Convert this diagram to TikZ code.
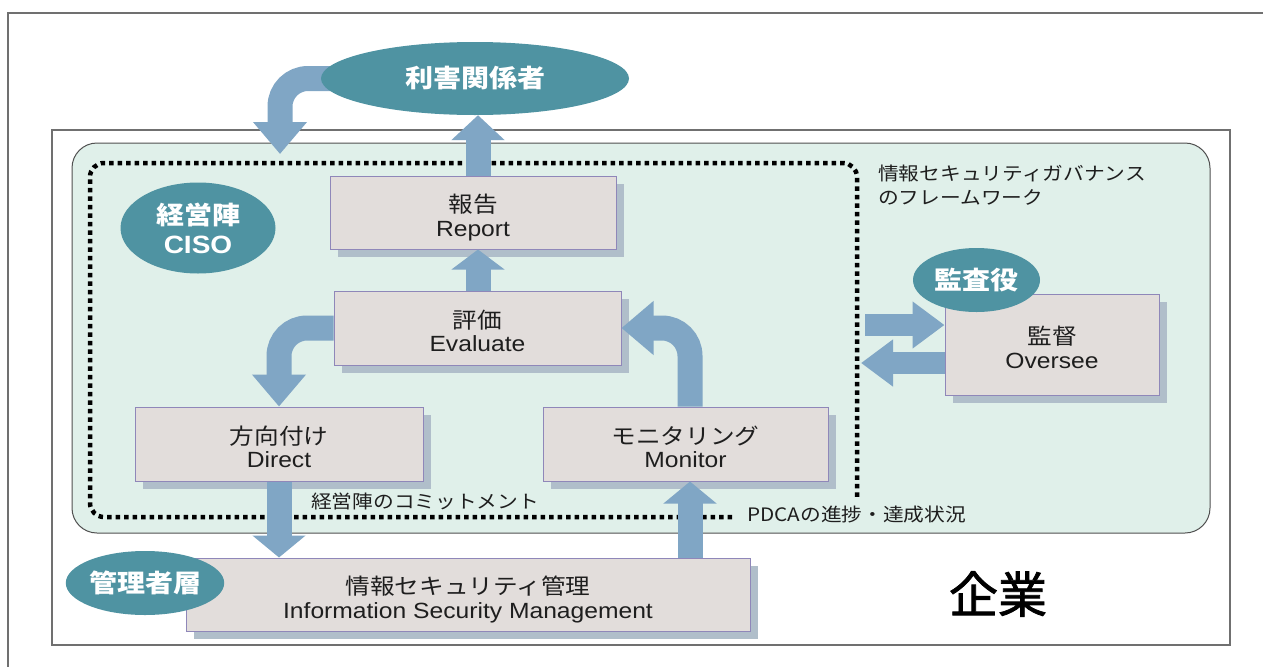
\documentclass[tikz,border=0pt]{standalone}
\usepackage{fontspec}
\setmainfont{Liberation Sans}[FakeStretch=1.12]
\newfontfamily\jp{Noto Sans CJK JP}[FakeStretch=1.12]
\newfontfamily\jpheavy{Noto Sans CJK JP}[FakeBold=1.6]
\usetikzlibrary{shapes.geometric,arrows.meta,shadows}
\definecolor{tealc}{HTML}{4F93A2}
\definecolor{arrowc}{HTML}{80A6C5}
\definecolor{boxfill}{HTML}{E2DDDB}
\definecolor{boxline}{HTML}{8F87B9}
\definecolor{shadowc}{HTML}{B0BECA}
\definecolor{mint}{HTML}{E0F0EA}
\definecolor{framec}{HTML}{707070}
\definecolor{greenline}{HTML}{505050}
\definecolor{textc}{HTML}{1E1E1E}
\pgfdeclarelayer{back}
\pgfdeclarelayer{mid}
\pgfsetlayers{back,mid,main}
\newcommand\boxtext[2]{\raisebox{-11.5pt}[0pt][0pt]{\begin{tabular}{@{}c@{}}{\jp #1}\\#2\end{tabular}}}
\begin{document}
\begin{tikzpicture}[x=1pt,y=-1pt,
  procbox/.style={draw=boxline, line width=1pt, fill=boxfill, inner sep=0pt,
    text=textc, font=\fontsize{22}{23.5}\selectfont,
    general shadow={fill=shadowc, shadow xshift=8pt, shadow yshift=-8pt}},
  role/.style={ellipse, fill=tealc, inner sep=0pt, text=white, align=center,
    font=\jp\bfseries\fontsize{25}{29}\selectfont},
  barrow/.style={draw=arrowc, line width=25pt, line cap=butt,
    -{Triangle[length=#1, width=52pt]}},
  sarrow/.style={draw=arrowc, line width=22pt, line cap=butt,
    -{Triangle[length=32pt, width=45pt]}},
  dotline/.style={draw=black, line width=4.5pt, dash pattern=on 4.5pt off 4pt},
  lbl/.style={inner sep=0pt, text=textc, font=\jp\fontsize{18.5}{24}\selectfont, align=left}
]
\useasboundingbox (0,0) rectangle (1263,667);
\begin{pgfonlayer}{back}
% outer frame
\draw[framec, line width=1.5pt] (1263,13) -- (8,13) -- (8,667);
% company
\draw[draw=framec, line width=1.2pt, fill=white] (52,130) rectangle (1230,645);
% governance area
\draw[draw=greenline, line width=1pt, fill=mint, rounded corners=25pt] (72,143) rectangle (1210,533);
% dotted framework
\draw[dotline, rounded corners=14pt] (732,517) -| (90,163) -| (857,497);
\end{pgfonlayer}

% labels
\node[lbl, anchor=north west] (fwlabel) at (878,165) {情報セキュリティガバナンス\\のフレームワーク};
\node[lbl, anchor=west] (commit) at (311,501) {経営陣のコミットメント};
\node[lbl, anchor=west] (pdca) at (747,515) {PDCAの進捗・達成状況};
\node[inner sep=0pt, text=black, font=\jpheavy\fontsize{49}{52}\selectfont] (company) at (998,594) {企業};

% boxes
\node[procbox, minimum width=286pt, minimum height=73pt] (report) at (473,212.5) {\boxtext{報告}{Report}};
\node[procbox, minimum width=287pt, minimum height=74pt] (eval) at (477.5,328) {\boxtext{評価}{Evaluate}};
\node[procbox, minimum width=288pt, minimum height=74pt] (direct) at (279,444) {\boxtext{方向付け}{Direct}};
\node[procbox, minimum width=285pt, minimum height=74pt] (monitor) at (685.5,444) {\boxtext{モニタリング}{Monitor}};
\node[procbox, minimum width=564pt, minimum height=73pt] (ism) at (468,594.5) {\boxtext{情報セキュリティ管理}{Information Security Management}};
\node[procbox, minimum width=214pt, minimum height=101pt] (oversee) at (1052,344.5) {\boxtext{監督}{Oversee}};

% role ellipses
\node[role, minimum width=308pt, minimum height=73pt] (stake) at (475,78.5) {利害関係者};
\node[role, minimum width=155pt, minimum height=91pt] (ciso) at (198,228) {経営陣\\{\rmfamily\bfseries CISO}};

% arrows
\coordinate (stakeTip) at (280,154);
\coordinate (upx) at (478,0);
\coordinate (monx) at (690,0);
\coordinate (ovA) at (865,325);
\coordinate (ovB) at (861,363);

\begin{pgfonlayer}{mid}
\draw[barrow=32pt, rounded corners=28pt] (stake.center) -| (stakeTip);
\end{pgfonlayer}
\draw[barrow=25pt] (report.north -| upx) -- (stake.south -| upx);
\draw[barrow=20pt] (eval.north -| upx) -- (report.south -| upx);
\draw[barrow=32pt, rounded corners=28pt] (eval.west) -| (direct.north);
\draw[barrow=32pt, rounded corners=28pt] (monitor.north -| monx) |- (eval.east);
\draw[barrow=22pt] (direct.south) -- (direct.south |- ism.north);
\draw[barrow=22pt] (ism.north -| monx) -- (monitor.south -| monx);
\draw[sarrow] (ovA) -- (ovA -| oversee.west);
\draw[sarrow] (ovB -| oversee.west) -- (ovB);

\node[role, minimum width=127pt, minimum height=64pt] (audit) at (976.5,280) {監査役};
\node[role, minimum width=145pt, minimum height=64pt] (mgr) at (145,583) {管理者層};
\end{tikzpicture}
\end{document}
